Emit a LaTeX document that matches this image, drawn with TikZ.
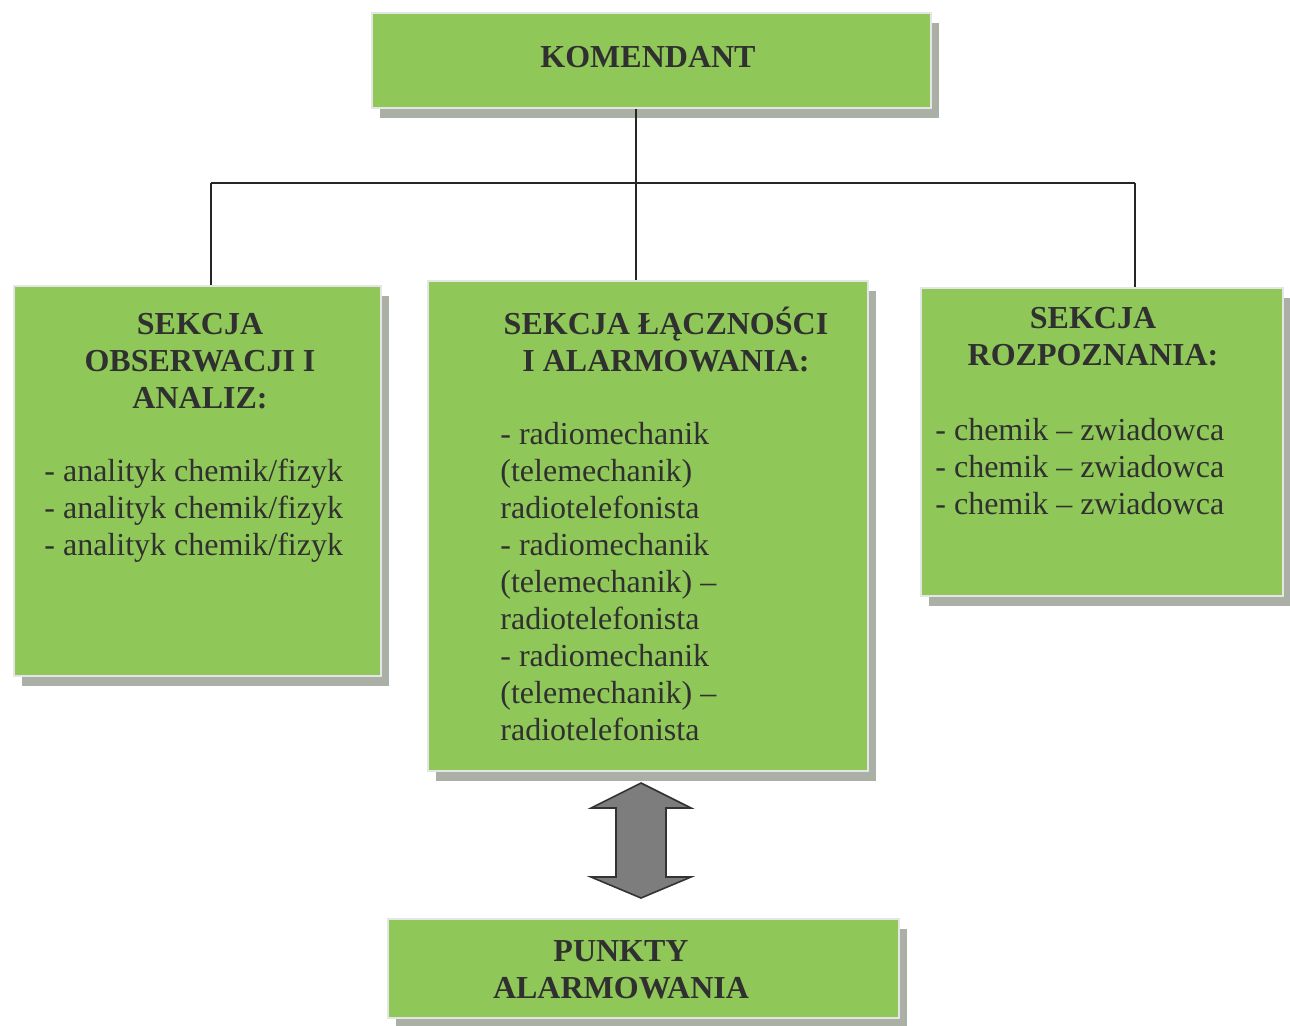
\documentclass[tikz,border=0pt]{standalone}
\usepackage{fontspec}
\setmainfont{Liberation Serif}
\usetikzlibrary{shadows}
\definecolor{boxgreen}{RGB}{143,200,88}
\definecolor{shadowgray}{RGB}{170,176,166}
\definecolor{txt}{RGB}{48,48,48}
\definecolor{arrowgray}{RGB}{125,125,125}
\begin{document}
\begin{tikzpicture}[x=0.5pt,y=-0.5pt,
  box/.style={draw=white!90!black, line width=0.8pt, fill=boxgreen, inner sep=0pt,
    anchor=north west,
    drop shadow={shadow xshift=4pt, shadow yshift=-5pt, fill=shadowgray, opacity=1}},
  headtxt/.style={font=\fontsize{16}{18.5}\selectfont\bfseries, text=txt, align=center, inner sep=0pt},
  itemtxt/.style={font=\fontsize{16}{18.5}\selectfont, text=txt, align=left, inner sep=0pt},
  link/.style={draw=black!85, line width=0.8pt},
  bigarrow/.style={draw=black!80, line width=0.8pt, fill=arrowgray}]
\useasboundingbox[fill=white] (0,0) rectangle (1290,1025);

% boxes
\node[box, minimum width=279.5pt, minimum height=47.5pt] (kom) at (371,12) {};
\node[box, minimum width=183.5pt, minimum height=195pt] (obs) at (13,285) {};
\node[box, minimum width=220pt, minimum height=245pt] (lacz) at (427,280) {};
\node[box, minimum width=181pt, minimum height=154pt] (roz) at (920,287) {};
\node[box, minimum width=255.5pt, minimum height=49.5pt] (pkt) at (387,918) {};

% texts
\node[headtxt, anchor=base] (komT) at (648,67) {KOMENDANT};

\node[headtxt, anchor=north] (obsH) at (200,308) {\strut SEKCJA\\OBSERWACJI I\\ANALIZ:};
\node[itemtxt, anchor=north west] (obsI) at (44,455) {\strut - analityk chemik/fizyk\\- analityk chemik/fizyk\\- analityk chemik/fizyk};

\node[headtxt, anchor=north] (laczH) at (666,307) {\strut SEKCJA ŁĄCZNOŚCI\\I ALARMOWANIA:};
\node[itemtxt, anchor=north west] (laczI) at (500,418) {\strut - radiomechanik\\(telemechanik)\\radiotelefonista\\- radiomechanik\\(telemechanik) –\\radiotelefonista\\- radiomechanik\\(telemechanik) –\\radiotelefonista};

\node[headtxt, anchor=north] (rozH) at (1093,302) {\strut SEKCJA\\ROZPOZNANIA:};
\node[itemtxt, anchor=north west] (rozI) at (935,414) {\strut - chemik – zwiadowca\\- chemik – zwiadowca\\- chemik – zwiadowca};

\node[headtxt, anchor=north] (pktT) at (621,935) {\strut PUNKTY\\ALARMOWANIA};

% connectors
\coordinate (j) at (636,183);
\coordinate (jl) at (211,183);
\coordinate (jr) at (1135,183);
\draw[link] (kom.south -| j) -- (j);
\draw[link] (jl) -- (jr);
\draw[link] (jl) -- (jl |- obs.north);
\draw[link] (j) -- (j |- lacz.north);
\draw[link] (jr) -- (jr |- roz.north);

% double arrow between communication section and alarm points
\draw[bigarrow] (641,783) -- (691,808) -- (666,808) -- (666,877) -- (691,877)
  -- (641,898) -- (591,877) -- (616,877) -- (616,808) -- (591,808) -- cycle;
\end{tikzpicture}
\end{document}
